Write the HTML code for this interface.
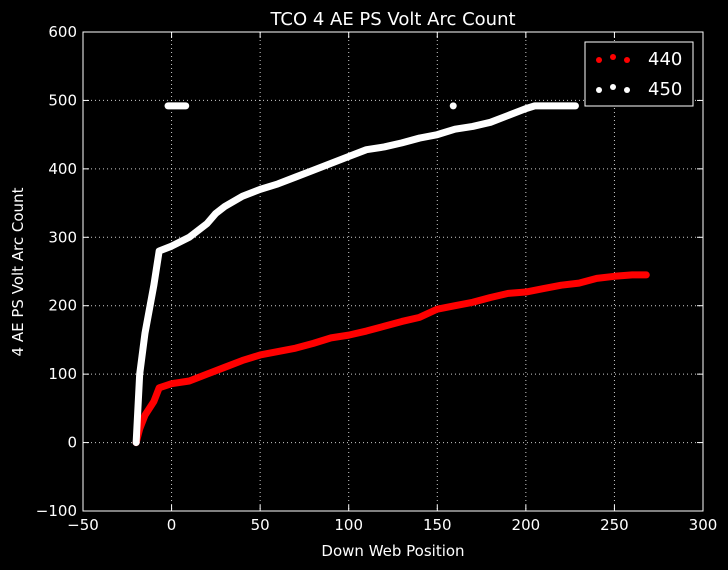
<!DOCTYPE html>
<html><head><meta charset="utf-8"><style>
html,body{margin:0;padding:0;background:#000;overflow:hidden;width:728px;height:570px;}
svg{display:block;}
svg text{font-family:"DejaVu Sans","Liberation Sans",sans-serif;fill:#fff;}
</style></head><body>
<svg id="chart" width="728" height="570" viewBox="0 0 728 570">
<rect width="728" height="570" fill="#000"/>
<g id="grid"></g>
<g id="series"></g>
<rect x="83" y="32" width="620" height="479" fill="none" stroke="#fff" stroke-width="1"/>
<g id="axes"></g>
<text x="393" y="25" font-size="18" text-anchor="middle">TCO 4 AE PS Volt Arc Count</text>
<text x="393" y="556" font-size="15" text-anchor="middle">Down Web Position</text>
<text x="23" y="272" font-size="15" text-anchor="middle" transform="rotate(-90 23 272)">4 AE PS Volt Arc Count</text>
<g>
<rect x="585" y="42" width="108" height="64" fill="#000" stroke="#fff" stroke-width="1"/>
<g>
<circle cx="599" cy="60" r="3" fill="#f00"/><circle cx="613" cy="57" r="3" fill="#f00"/><circle cx="627" cy="60" r="3" fill="#f00"/>
<text x="648" y="65" font-size="18">440</text></g>
<g>
<circle cx="599" cy="90" r="3" fill="#fff"/><circle cx="613" cy="87" r="3" fill="#fff"/><circle cx="627" cy="90" r="3" fill="#fff"/>
<text x="648" y="95" font-size="18">450</text></g>
</g>
</svg>
<script>
const xTicks=[-50,0,50,100,150,200,250,300];
const yTicks=[-100,0,100,200,300,400,500,600];
const x450=[-20,-18,-15,-10,-7,0,10,20,25,30,40,50,60,70,80,90,100,110,120,130,140,150,160,170,180,190,200,205,228];
const y450=[0,100,160,230,280,287,300,320,335,345,360,370,378,388,398,408,418,428,432,438,445,450,458,462,468,478,488,492,492];
const x440=[-20,-18,-15,-10,-7,0,10,20,30,40,50,60,70,80,90,100,110,120,130,140,150,160,170,180,190,200,210,220,230,240,250,260,268];
const y440=[0,20,40,60,80,86,90,100,110,120,128,133,138,145,153,157,163,170,177,183,195,200,205,212,218,220,225,230,233,240,243,245,245];
const outX450=[-2,8];
const outY450=[492,492];
const ptX450=[159];
const ptY450=[492];
const NS="http://www.w3.org/2000/svg";
const sx=v=>83+(v+50)*620/350;
const sy=v=>511-(v+100)*479/700;
const grid=document.getElementById('grid'),axes=document.getElementById('axes'),ser=document.getElementById('series');
function mk(tag,attrs,parent){const e=document.createElementNS(NS,tag);for(const k in attrs)e.setAttribute(k,attrs[k]);parent.appendChild(e);return e;}
xTicks.forEach(t=>{
 const x=sx(t);
 if(t>-50&&t<300){const g=mk('line',{x1:x,x2:x,y1:32,y2:511,stroke:'#fff','stroke-width':1,'stroke-dasharray':'1,3',opacity:0.8},grid);
 
 }
 mk('line',{x1:x,x2:x,y1:511,y2:505,stroke:'#fff'},axes);
 mk('line',{x1:x,x2:x,y1:32,y2:38,stroke:'#fff'},axes);
 const tx=mk('text',{x:x,y:530,'font-size':15,'text-anchor':'middle'},axes);
 tx.textContent=t<0?'\u2212'+(-t):t;
 
 
});
yTicks.forEach(t=>{
 const y=sy(t);
 if(t>-100&&t<600){const g=mk('line',{x1:83,x2:703,y1:y,y2:y,stroke:'#fff','stroke-width':1,'stroke-dasharray':'1,3',opacity:0.8},grid);
 
 }
 mk('line',{x1:83,x2:89,y1:y,y2:y,stroke:'#fff'},axes);
 mk('line',{x1:703,x2:697,y1:y,y2:y,stroke:'#fff'},axes);
 const tx=mk('text',{x:77,y:y+5,'font-size':15,'text-anchor':'end'},axes);
 tx.textContent=t<0?'\u2212'+(-t):t;
 
 
});
function line(xs,ys,color,name){
 const p=mk('polyline',{points:xs.map((v,i)=>sx(v)+','+sy(ys[i])).join(' '),fill:'none',stroke:color,'stroke-width':7,'stroke-linejoin':'round','stroke-linecap':'round'},ser);
 
 
}
line(x440,y440,'#f00','series-440');
line(x450,y450,'#fff','series-450');
line(outX450,outY450,'#fff','series-450-outlier-segment');
ptX450.forEach((v,i)=>{const c=mk('circle',{cx:sx(v),cy:sy(ptY450[i]),r:3.5,fill:'#fff'},ser);
 
 });
</script>
</body></html>
